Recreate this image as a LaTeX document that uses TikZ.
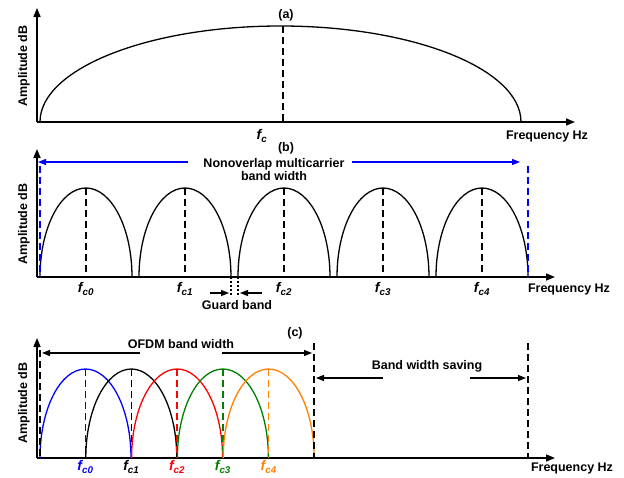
\documentclass[tikz,border=0pt]{standalone}
\usepackage{fontspec}
\setmainfont{Liberation Sans}
\usetikzlibrary{
    arrows.meta,
    positioning
}
\definecolor{ofdmblue}{RGB}{0,0,255}
\definecolor{ofdmred}{RGB}{255,0,0}
\definecolor{ofdmgreen}{RGB}{0,128,0}
\definecolor{ofdmorange}{RGB}{255,128,0}
\tikzset{
  ax/.style    = {-{Triangle[length=9pt,width=7pt]}, line width=1.6pt},
  hump/.style  = {line width=1.3pt},
  cline/.style = {line width=1.4pt, dash pattern=on 7pt off 4pt},
  gline/.style = {line width=1.2pt, dash pattern=on 2pt off 2pt},
  arr/.style   = {-{Triangle[length=8pt,width=6pt]}, line width=1.2pt},
  lbl/.style   = {font=\fontsize{12.5}{13.5}\selectfont\bfseries,
                  align=center, inner sep=0pt},
  flbl/.style  = {font=\fontsize{14}{15}\selectfont\bfseries\itshape,
                  inner sep=0pt},
  ylbl/.style  = {lbl, rotate=90}
}

\begin{document}
\begin{tikzpicture}[x=10pt, y=-10pt]
    \useasboundingbox (0,0) rectangle (62.4,47.7);
    % (a) single carrier
    \coordinate (oa) at (3.7,12.2);
    \coordinate (ya) at (3.7,0.8);
    \coordinate (xa) at (57.5,12.2);
    \draw[ax](oa)--(ya); \draw[ax](oa)--(xa);
    \draw[hump] (4.0,12.2) arc[start angle=180, end angle=0,
                                x radius=240.5pt, y radius=96pt];
    \coordinate (pka) at (28.3,2.6);
    \draw[cline](pka)--(pka |- oa);
    \node[lbl](tita)  at (28.6,1.5)  {(a)};
    \node[flbl](fa)   at (26.2,13.6) {f\textsubscript{c}};
    \node[lbl](fra)   at (54.7,13.6) {Frequency Hz};
    \node[ylbl](ampa) at (2.4,6.6)   {Amplitude dB};

    % (b) nonoverlap multicarrier
    \coordinate (ob) at (3.7,27.7);
    \coordinate (yb) at (3.7,14.9);
    \coordinate (xb) at (55.5,27.7);
    \draw[ax](ob)--(yb); \draw[ax](ob)--(xb);
    \foreach \i in {0,...,4}{
      \pgfmathsetmacro\xs{4.0+9.9*\i}
      \draw[hump] (\xs,27.7) arc[start angle=180, end angle=0,
                                 x radius=46pt, y radius=89pt];
      \coordinate (pb\i) at (\xs+4.6,18.8);
      \draw[cline](pb\i)--(pb\i |- ob);
      \node[flbl](fb\i) at (\xs+4.6,28.9) {f\textsubscript{c\i}};
    }
    \node[lbl](titb) at (28.6,14.8) {(b)};
    \node[lbl](nmb)  at (27.4,16.95) {Nonoverlap multicarrier\\band width};
    \coordinate (bl0) at (18.8,16.2); \coordinate (bl1) at (3.8,16.2);
    \coordinate (br0) at (35.2,16.2); \coordinate (br1) at (52.0,16.2);
    \draw[arr, ofdmblue](bl0)--(bl1); \draw[arr, ofdmblue](br0)--(br1);
    \draw[cline, ofdmblue](4.0,16.6)--(4.0,27.7);
    \draw[cline, ofdmblue](52.8,16.6)--(52.8,27.7);
    \coordinate (g1) at (23.1,27.7); \coordinate (g2) at (23.8,27.7);
    \draw[gline](g1)--++(0,1.8); \draw[gline](g2)--++(0,1.8);
    \draw[arr](21.0,29.3)--(22.9,29.3);
    \draw[arr](26.2,29.3)--(24.0,29.3);
    \node[lbl](grd) at (23.7,30.5) {Guard band};
    \node[lbl](frb) at (56.9,28.9) {Frequency Hz};
    \node[ylbl](ampb) at (2.4,22.4) {Amplitude dB};

    % (c) OFDM
    \coordinate (oc) at (3.7,45.8);
    \coordinate (yc) at (3.7,33.8);
    \coordinate (xc) at (55.5,45.8);
    \draw[ax](oc)--(yc); \draw[ax](oc)--(xc);
    \foreach \i/\col in {0/ofdmblue,1/black,2/ofdmred,3/ofdmgreen,4/ofdmorange}{
      \pgfmathsetmacro\xs{4.0+4.58*\i}
      \draw[hump, \col] (\xs,45.8) arc[start angle=180, end angle=0,
                                       x radius=45.5pt, y radius=89pt];
      \coordinate (pc\i) at (\xs+4.55,36.9);
      \draw[cline, \col](pc\i)--(pc\i |- oc);
      \node[flbl, text=\col](fc\i) at (\xs+4.55,46.7) {f\textsubscript{c\i}};
    }
    \draw[cline](4.0,35.0)--(4.0,45.8);
    \draw[cline](31.4,34.3)--(31.4,45.8);
    \draw[cline](52.8,34.3)--(52.8,45.8);
    \node[lbl](titc) at (29.5,33.3) {(c)};
    \node[lbl](ofd)  at (18.1,34.4) {OFDM band width};
    \draw[arr](14.0,35.3)--(4.2,35.3); \draw[arr](22.2,35.3)--(31.2,35.3);
    \node[lbl](sav)  at (42.7,36.6) {Band width saving};
    \draw[arr](38.3,37.8)--(31.6,37.8); \draw[arr](47.0,37.8)--(52.6,37.8);
    \node[lbl](frc)  at (57.2,46.8) {Frequency Hz};
    \node[ylbl](ampc) at (2.4,40.3) {Amplitude dB};
  \end{tikzpicture}
\end{document}
